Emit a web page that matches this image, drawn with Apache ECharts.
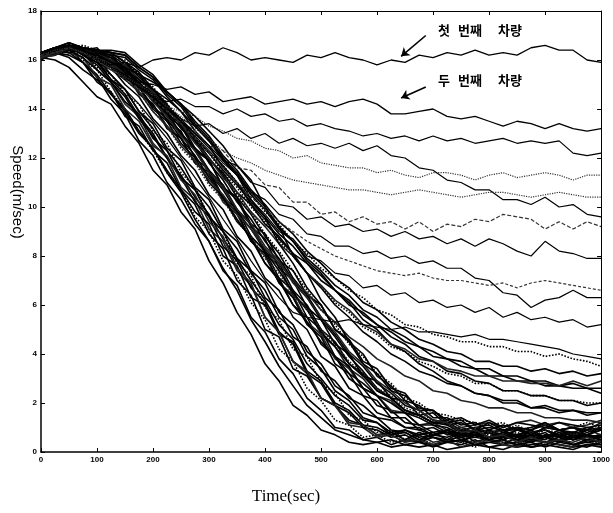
<!DOCTYPE html>
<html>
<head>
<meta charset="utf-8">
<script src="https://cdn.jsdelivr.net/npm/echarts@6/dist/echarts.min.js"></script>
<style>
  html, body { margin: 0; padding: 0; background: #fff; }
  #chart { width: 613px; height: 513px; }
</style>
</head>
<body>
<div id="chart"></div>
<script>
// time axis (sec), one sample every 25 s
var time = [0,25,50,75,100,125,150,175,200,225,250,275,300,325,350,375,400,425,450,475,500,525,550,575,600,625,650,675,700,725,750,775,800,825,850,875,900,925,950,975,1000];

// vehicles that leave the platoon and stay fast
var first  = [16.2,16.4,16.5,16.3,16.0,15.8,15.9,15.7,16.0,16.1,16.0,16.3,16.2,16.5,16.3,16.0,16.1,16.0,15.9,16.2,16.1,16.3,16.1,16.0,15.8,16.0,15.9,16.2,16.1,16.3,16.2,16.4,16.2,16.3,16.2,16.5,16.6,16.4,16.4,16.0,15.9];
var second = [16.2,16.4,16.6,16.3,15.9,15.6,15.2,15.1,15.0,14.8,14.9,14.6,14.7,14.3,14.4,14.5,14.2,14.3,14.4,14.2,14.3,14.1,14.3,14.4,14.2,13.8,13.8,13.9,14.0,13.7,13.6,13.7,13.5,13.3,13.5,13.4,13.2,13.4,13.2,13.1,13.2];
var u3  = [16.2,16.4,16.5,16.4,16.0,15.7,15.3,14.9,14.5,14.3,14.4,14.1,14.1,13.8,14.0,13.7,13.8,13.5,13.6,13.3,13.4,13.2,13.1,12.9,13.0,12.8,12.9,12.7,12.9,12.7,12.8,12.6,12.7,12.8,12.6,12.7,12.6,12.7,12.2,12.1,12.2];
var u4  = [16.1,16.4,16.6,16.3,16.0,15.6,15.3,14.9,14.5,14.1,13.9,13.7,13.3,13.1,12.8,12.7,12.4,12.3,12.0,12.1,11.8,11.7,11.6,11.6,11.4,11.5,11.3,11.2,11.4,11.4,11.3,11.1,11.3,11.4,11.2,11.3,11.4,11.3,11.1,11.3,11.3];
var u5  = [16.2,16.4,16.5,16.3,16.1,15.7,15.4,15.0,14.6,14.1,13.6,13.3,13.4,13.0,13.2,12.8,13.0,12.6,12.8,12.5,12.6,12.4,12.6,12.3,12.5,12.1,12.0,11.6,11.5,11.1,11.0,10.7,10.7,10.3,10.3,10.1,10.4,10.0,10.1,9.7,9.6];
var u6  = [16.3,16.4,16.6,16.3,16.0,15.6,15.3,14.9,14.5,14.0,13.5,13.1,12.5,12.3,11.6,11.5,10.9,10.8,10.2,10.2,9.7,9.8,9.4,9.6,9.3,9.4,9.1,9.4,9.0,9.3,9.2,9.5,9.4,9.7,9.6,9.5,9.1,9.4,9.1,9.4,9.2];
var u7  = [16.2,16.4,16.6,16.4,16.1,15.7,15.4,15.0,14.6,14.1,13.6,13.0,12.5,11.9,11.7,11.0,10.8,10.1,10.0,9.5,9.6,9.2,9.3,9.0,9.1,8.8,9.0,8.7,8.8,8.5,8.7,8.4,8.7,8.5,8.2,8.0,8.6,8.2,8.1,7.9,7.9];
var u8  = [16.2,16.5,16.6,16.3,16.0,15.7,15.3,14.9,14.5,14.0,13.5,13.0,12.4,11.8,11.3,10.6,10.3,9.7,9.5,8.9,8.8,8.4,8.4,8.1,8.2,7.9,8.0,7.7,7.8,7.5,7.5,7.1,7.0,6.5,6.4,5.9,6.2,6.3,6.6,6.3,6.3];
var u9  = [16.2,16.4,16.5,16.2,15.9,15.4,14.8,14.2,13.5,12.8,12.0,11.2,10.4,9.5,8.7,7.8,7.0,6.3,5.7,5.5,5.4,5.3,5.4,5.2,5.1,5.0,5.1,4.9,4.9,4.8,4.7,4.8,4.6,4.6,4.5,4.4,4.3,4.2,4.0,3.9,3.8];
var u10 = [16.3,16.4,16.6,16.4,16.0,15.7,15.3,14.9,14.5,14.0,13.5,12.9,12.3,11.7,11.0,10.3,9.7,9.0,8.7,8.0,7.8,7.3,7.2,6.7,6.8,6.4,6.5,6.1,6.2,5.9,6.0,5.7,5.9,5.5,5.7,5.4,5.5,5.3,5.4,5.1,5.2];
var u11 = [16.2,16.4,16.5,16.3,16.1,15.7,15.3,15.0,14.6,14.1,13.7,13.2,12.8,12.3,12.0,11.8,11.5,11.3,11.1,11.0,10.9,10.8,10.7,10.7,10.6,10.5,10.6,10.7,10.6,10.5,10.4,10.5,10.6,10.6,10.5,10.4,10.5,10.6,10.5,10.4,10.4];
var u12 = [16.2,16.3,16.5,16.3,16.0,15.6,15.2,14.8,14.4,13.9,13.4,12.8,12.2,11.6,11.0,10.4,9.9,9.4,9.0,8.6,8.3,8.0,7.8,7.6,7.4,7.3,7.2,7.3,7.1,7.0,7.0,6.9,6.8,6.9,6.7,6.9,7.0,6.9,6.8,6.7,6.6];

// vehicles that brake (the dense platoon)
var edge  = [16.1,16.0,15.7,15.1,14.5,14.2,13.3,12.6,11.5,10.9,9.8,9.1,7.8,6.9,5.7,4.8,3.6,2.9,1.9,1.5,0.9,0.7,0.4,0.3,0.4,0.2,0.3,0.2,0.3,0.1,0.2,0.3,0.2,0.1,0.3,0.2,0.3,0.2,0.1,0.3,0.2];
var edge2 = [16.2,16.3,16.1,15.6,15.2,14.6,14.0,13.1,12.4,11.4,10.6,9.5,8.6,7.5,6.6,5.4,4.5,3.5,2.7,1.9,1.4,0.9,0.7,0.5,0.4,0.5,0.3,0.4,0.3,0.4,0.5,0.3,0.4,0.3,0.2,0.3,0.4,0.3,0.2,0.3,0.3];
var a1  = [16.2,16.4,16.3,15.9,15.3,14.4,13.8,12.7,12.1,11.0,10.3,9.3,8.6,7.4,6.8,5.5,4.9,3.8,3.2,2.2,1.7,1.0,0.9,0.5,0.6,0.3,0.5,0.4,0.2,0.4,0.3,0.5,0.2,0.3,0.4,0.2,0.3,0.5,0.3,0.2,0.4];
var a2  = [16.1,16.3,16.6,16.0,15.6,14.7,14.0,13.1,12.3,11.4,10.7,9.6,9.0,7.8,7.2,6.1,5.4,4.2,3.7,2.6,2.1,1.3,1.1,0.6,0.7,0.4,0.5,0.6,0.3,0.5,0.4,0.2,0.5,0.4,0.5,0.2,0.4,0.3,0.2,0.5,0.3];
var a3  = [16.2,16.5,16.4,16.3,15.6,15.1,14.2,13.7,12.6,12.0,10.8,10.3,9.1,8.6,7.4,6.8,5.5,4.9,3.7,3.2,2.2,1.9,1.1,1.0,0.6,0.7,0.4,0.7,0.4,0.5,0.6,0.3,0.5,0.4,0.3,0.6,0.4,0.5,0.3,0.5,0.4];
var a4  = [16.3,16.2,16.5,15.9,15.4,14.6,13.9,13.0,12.4,11.5,10.7,9.8,9.3,8.0,7.6,6.3,6.0,4.8,4.5,3.3,2.9,2.0,1.7,1.1,1.0,0.7,0.8,0.5,0.7,0.6,0.8,0.4,0.6,0.5,0.7,0.6,0.8,0.4,0.6,0.7,0.5];
var a5  = [16.2,16.4,16.6,16.2,15.8,15.1,14.5,13.6,12.9,12.0,11.2,10.2,9.6,8.4,7.8,6.7,6.1,4.9,4.4,3.2,2.8,1.9,1.6,1.0,0.9,0.6,0.7,0.4,0.6,0.5,0.4,0.7,0.5,0.3,0.6,0.5,0.4,0.6,0.3,0.5,0.6];
var a6  = [16.0,16.3,16.2,15.9,15.1,14.7,13.7,13.3,12.3,11.8,10.7,10.1,8.9,8.3,7.0,6.4,5.0,4.7,3.4,3.1,2.2,1.9,1.3,1.1,0.7,0.8,0.5,0.8,0.6,0.4,0.7,0.6,0.5,0.7,0.5,0.4,0.7,0.6,0.5,0.7,0.5];
var a7  = [16.2,16.3,16.6,16.3,16.0,15.2,14.6,13.7,13.0,12.0,11.3,10.4,9.7,8.7,7.9,7.0,6.2,5.2,4.6,3.6,3.0,2.3,1.9,1.3,1.2,0.8,0.9,0.6,0.7,0.8,0.5,0.6,0.8,0.6,0.5,0.7,0.6,0.4,0.7,0.6,0.7];
var a8  = [16.1,16.4,16.3,16.1,15.3,15.0,14.0,13.5,12.5,12.1,11.1,10.5,9.4,8.8,7.5,6.9,5.5,4.9,3.7,3.3,2.2,1.9,1.2,1.1,0.7,0.7,0.4,0.5,0.3,0.5,0.2,0.4,0.5,0.3,0.2,0.5,0.4,0.3,0.2,0.5,0.4];
var a9  = [16.2,16.4,16.5,16.3,15.7,15.4,14.6,14.2,13.1,12.6,11.4,10.8,9.6,9.0,7.7,7.2,5.9,5.4,4.2,3.9,2.8,2.4,1.5,1.3,0.8,0.9,0.5,0.8,0.7,0.9,0.5,0.8,0.7,0.6,0.8,0.6,0.9,0.7,0.8,0.6,0.7];
var a10 = [16.3,16.5,16.6,16.3,16.1,15.4,14.8,13.9,13.2,12.3,11.6,10.7,10.0,9.0,8.3,7.3,6.6,5.5,5.0,3.9,3.4,2.5,2.1,1.4,1.2,0.7,0.9,0.7,0.8,0.5,0.8,0.7,0.8,0.5,0.7,0.9,0.6,0.7,0.5,0.7,0.6];
var d1  = [16.2,16.3,16.5,16.4,16.1,15.7,15.0,14.5,13.6,13.0,12.1,11.5,10.5,9.9,8.8,8.2,7.1,6.6,5.5,5.0,3.9,3.5,2.6,2.3,1.6,1.4,1.0,1.0,0.7,0.8,0.6,0.7,0.5,0.6,0.7,0.5,0.6,0.4,0.6,0.5,0.6];
var d2  = [16.1,16.4,16.5,16.3,16.2,15.9,15.3,14.9,14.0,13.5,12.6,12.0,11.0,10.4,9.4,8.8,7.7,7.1,6.0,5.5,4.4,3.9,3.0,2.6,1.9,1.7,1.2,1.1,0.8,0.9,0.7,0.8,0.6,0.8,0.7,0.5,0.7,0.6,0.8,0.6,0.7];
var d3  = [16.3,16.5,16.4,16.5,16.2,15.8,15.4,14.7,14.2,13.3,12.8,11.8,11.3,10.2,9.7,8.6,8.0,6.9,6.4,5.3,4.8,3.8,3.4,2.6,2.3,1.7,1.6,1.1,1.2,0.9,1.0,0.8,0.9,0.7,0.9,0.8,0.6,0.8,0.7,0.9,0.7];
var d4  = [16.2,16.3,16.6,16.5,16.4,15.9,15.6,15.0,14.4,13.8,13.0,12.4,11.5,10.9,9.9,9.3,8.2,7.7,6.6,6.0,5.0,4.5,3.6,3.2,2.5,2.2,1.7,1.5,1.2,1.2,0.9,1.0,1.1,0.8,1.0,0.9,1.1,0.9,0.8,1.0,0.9];
var d5  = [16.1,16.2,16.4,16.1,15.6,15.1,14.3,13.8,12.8,12.3,11.2,10.7,9.6,9.0,7.9,7.4,6.3,5.8,4.7,4.3,3.3,2.9,2.2,1.9,1.4,1.3,1.0,0.9,0.7,0.9,0.6,0.7,0.5,0.7,0.6,0.4,0.6,0.5,0.7,0.4,0.5];
var d6  = [16.2,16.4,16.5,16.6,16.4,16.0,15.7,15.2,14.6,14.0,13.4,12.7,12.0,11.3,10.5,9.8,8.9,8.2,7.4,6.6,5.8,5.2,4.4,3.9,3.2,2.8,2.2,2.0,1.6,1.5,1.3,1.2,1.1,1.2,0.9,1.0,1.1,0.9,1.0,1.2,1.0];
var d7  = [16.3,16.4,16.6,16.2,15.9,15.2,14.8,13.9,13.4,12.4,11.9,10.8,10.3,9.1,8.6,7.4,6.9,5.7,5.2,4.1,3.6,2.7,2.3,1.6,1.4,0.9,0.8,0.5,0.6,0.4,0.5,0.3,0.4,0.5,0.3,0.4,0.2,0.4,0.3,0.4,0.3];
var d8  = [16.2,16.3,16.5,16.4,16.3,16.1,15.5,15.1,14.3,13.9,12.9,12.4,11.4,10.9,9.8,9.3,8.1,7.6,6.4,5.9,4.8,4.3,3.4,3.0,2.3,2.1,1.6,1.5,1.2,1.3,1.0,1.1,1.2,1.0,1.2,1.3,1.1,1.2,1.0,1.1,1.3];
var b1  = [16.2,16.4,16.5,16.3,16.4,15.9,15.7,14.8,14.5,13.5,13.1,12.0,11.5,10.4,9.9,8.8,8.2,7.1,6.6,5.5,5.0,3.9,3.5,2.6,2.3,1.6,1.6,1.1,1.1,0.8,0.9,0.8,0.9,0.6,0.9,0.8,0.9,0.6,0.8,0.7,0.9];
var b2  = [16.1,16.3,16.6,16.5,16.3,16.2,15.6,15.1,14.4,13.8,13.0,12.3,11.4,10.7,9.8,9.1,8.2,7.4,6.5,5.8,4.9,4.3,3.6,3.1,2.5,2.2,1.7,1.5,1.2,1.1,0.8,0.9,0.8,0.9,0.6,0.8,0.9,0.7,0.8,0.7,0.9];
var b3  = [16.2,16.4,16.3,16.4,16.3,15.7,15.5,14.6,14.2,13.2,12.8,11.8,11.4,10.3,9.8,8.6,8.1,6.9,6.3,5.2,4.7,3.6,3.2,2.3,2.1,1.4,1.4,0.9,1.0,0.7,0.8,0.7,0.8,0.5,0.7,0.8,0.6,0.7,0.5,0.7,0.6];
var b4  = [16.3,16.5,16.6,16.4,16.3,16.2,15.8,15.4,14.7,14.1,13.3,12.7,11.8,11.1,10.2,9.5,8.6,7.9,7.0,6.3,5.4,4.7,3.9,3.3,2.6,2.2,1.7,1.5,1.2,1.2,0.9,1.0,0.8,0.9,0.9,0.7,1.0,0.9,0.7,0.9,1.0];
var b5  = [16.2,16.3,16.5,16.3,16.0,15.8,15.2,14.7,13.9,13.3,12.4,11.8,10.9,10.3,9.4,8.8,7.9,7.3,6.4,5.8,5.0,4.4,3.7,3.2,2.6,2.3,1.8,1.6,1.3,1.2,0.9,1.0,0.8,0.9,1.1,0.8,0.9,0.8,0.7,0.9,1.0];
var b6  = [16.1,16.3,16.4,16.5,16.4,15.9,15.8,15.0,14.7,13.8,13.4,12.4,11.9,10.8,10.3,9.2,8.7,7.5,7.0,5.9,5.4,4.4,4.0,3.1,2.9,2.2,2.1,1.5,1.6,1.1,1.2,0.9,1.2,0.9,1.0,0.9,1.2,0.9,1.0,0.9,1.2];
var b7  = [16.3,16.5,16.7,16.5,16.4,16.3,15.9,15.5,14.8,14.2,13.4,12.8,12.0,11.3,10.4,9.7,8.8,8.1,7.1,6.4,5.5,4.8,4.0,3.5,2.8,2.4,1.9,1.7,1.3,1.2,0.8,0.9,0.6,0.8,0.6,0.7,0.6,0.9,0.6,0.7,0.6];
var b8  = [16.2,16.4,16.5,16.4,16.2,16.0,15.4,14.9,14.1,13.6,12.8,12.1,11.2,10.4,9.5,8.7,7.7,7.0,6.0,5.3,4.5,3.9,3.2,2.8,2.3,2.0,1.6,1.4,1.1,1.0,0.7,0.8,0.5,0.7,0.5,0.6,0.5,0.8,0.5,0.6,0.5];
var b9  = [16.2,16.3,16.5,16.4,16.5,15.9,15.7,14.9,14.6,13.7,13.3,12.3,11.9,10.8,10.4,9.3,8.9,7.8,7.4,6.4,6.0,5.0,4.6,3.7,3.4,2.6,2.4,1.7,1.7,1.2,1.3,0.9,1.0,0.9,1.0,0.7,1.0,0.9,1.0,0.7,1.0];
var b10 = [16.3,16.4,16.6,16.3,16.1,15.9,15.4,15.0,14.3,13.7,12.9,12.3,11.4,10.8,9.9,9.3,8.4,7.8,6.9,6.3,5.5,4.9,4.1,3.6,2.9,2.5,2.0,1.7,1.3,1.2,0.8,0.9,0.6,0.7,0.4,0.6,0.4,0.5,0.4,0.6,0.4];
var c1  = [16.2,16.4,16.5,16.4,16.3,16.2,16.1,15.6,15.2,14.5,13.9,13.1,12.5,11.6,11.0,10.1,9.5,8.7,8.1,7.3,6.7,6.0,5.5,4.9,4.5,4.0,3.7,3.3,3.1,2.8,2.7,2.4,2.3,2.1,2.1,1.8,1.9,1.7,1.7,1.6,1.6];
var c2  = [16.1,16.3,16.5,16.4,16.2,16.1,16.0,15.4,14.9,14.2,13.6,12.8,12.2,11.4,10.8,10.0,9.4,8.6,8.0,7.3,6.8,6.1,5.7,5.1,4.8,4.3,4.1,3.7,3.5,3.2,3.1,2.8,2.8,2.5,2.5,2.3,2.3,2.1,2.1,2.0,2.0];
var c3  = [16.2,16.3,16.6,16.4,16.3,16.3,16.2,15.7,15.3,14.6,14.1,13.3,12.7,11.9,11.3,10.5,9.9,9.1,8.6,7.9,7.4,6.8,6.4,5.8,5.5,5.0,4.7,4.3,4.1,3.8,3.7,3.4,3.4,3.1,3.1,2.9,2.9,2.7,2.8,2.6,2.6];
var c4  = [16.3,16.5,16.6,16.5,16.4,16.3,16.2,15.7,15.3,14.7,14.2,13.5,12.9,12.1,11.5,10.7,10.1,9.4,8.9,8.2,7.7,7.1,6.7,6.1,5.8,5.3,5.0,4.6,4.4,4.1,4.0,3.7,3.7,3.5,3.5,3.3,3.4,3.2,3.3,3.1,3.2];
var c5  = [16.1,16.2,16.5,16.3,16.0,15.8,15.2,14.7,13.9,13.3,12.5,11.9,11.1,10.5,9.7,9.1,8.3,7.7,7.0,6.5,5.8,5.3,4.7,4.3,3.8,3.5,3.1,2.9,2.5,2.4,2.1,2.0,1.8,1.8,1.6,1.6,1.4,1.4,1.3,1.3,1.2];
var c6  = [16.2,16.4,16.5,16.4,16.4,16.3,15.9,15.3,14.8,14.1,13.5,12.8,12.2,11.5,10.9,10.2,9.6,8.9,8.4,7.7,7.2,6.6,6.2,5.6,5.2,4.7,4.4,3.9,3.7,3.3,3.2,2.9,2.8,2.5,2.5,2.3,2.3,2.1,2.1,1.9,2.0];
var c7  = [16.2,16.3,16.5,16.4,16.1,16.0,15.5,15.1,14.4,13.9,13.2,12.7,11.9,11.4,10.6,10.1,9.3,8.8,8.1,7.7,7.0,6.6,6.0,5.7,5.2,4.9,4.5,4.3,3.9,3.8,3.5,3.4,3.1,3.1,2.9,2.9,2.7,2.7,2.6,2.6,2.4];
var c8  = [16.3,16.5,16.7,16.5,16.4,16.4,16.3,15.8,15.4,14.7,14.2,13.4,12.8,12.0,11.4,10.6,10.0,9.2,8.6,7.8,7.3,6.6,6.1,5.4,5.0,4.4,4.1,3.6,3.3,2.9,2.7,2.4,2.3,2.0,2.0,1.8,1.8,1.6,1.7,1.5,1.6];
var c9  = [16.2,16.3,16.6,16.4,16.2,16.1,15.6,15.2,14.6,14.1,13.4,12.9,12.2,11.7,11.0,10.5,9.8,9.3,8.6,8.1,7.5,7.1,6.6,6.3,5.8,5.6,5.2,5.1,4.8,4.7,4.5,4.5,4.3,4.3,4.1,4.1,3.9,4.0,3.8,3.7,3.5];
var c10 = [16.1,16.3,16.5,16.4,16.3,16.0,15.8,15.2,14.7,14.0,13.4,12.6,12.0,11.2,10.6,9.8,9.2,8.5,8.0,7.3,6.8,6.2,5.8,5.2,4.9,4.4,4.2,3.8,3.7,3.4,3.3,3.1,3.1,2.9,2.9,2.8,2.8,2.7,2.9,2.7,2.9];
var e1  = [16.2,16.4,16.6,16.5,16.3,16.1,15.7,15.4,15.1,14.7,14.2,13.7,13.1,12.5,11.7,11.1,10.0,9.2,8.0,7.3,6.2,5.5,4.5,4.0,3.1,2.7,2.1,1.9,1.4,1.4,1.1,1.2,0.9,1.1,0.9,1.0,1.2,0.9,1.0,0.8,1.0];
var e2  = [16.3,16.5,16.6,16.4,16.2,15.9,15.6,15.2,14.8,14.4,13.9,13.3,12.7,12.0,11.3,10.3,9.6,8.5,7.7,6.7,6.0,5.0,4.5,3.6,3.2,2.5,2.3,1.8,1.7,1.3,1.4,1.1,1.3,1.0,1.2,1.1,1.0,1.2,1.1,1.0,1.1];

var upper  = [first, second, u3, u4, u5, u6, u7, u8, u9, u10, u11, u12];
var bundle = [edge, edge2, a1, a2, a3, a4, a5, a6, a7, a8, a9, a10,
              d1, d2, d3, d4, d5, d6, d7, d8,
              b1, b2, b3, b4, b5, b6, b7, b8, b9, b10,
              c1, c2, c3, c4, c5, c6, c7, c8, c9, c10, e1, e2];

// annotation labels and arrow ends (data units)
var labelFirst  = ['첫', '번째', '차량'];
var labelSecond = ['두', '번째', '차량'];
var arrowFirst  = [[687, 17.0], [643, 16.15]];
var arrowSecond = [[687, 14.9], [643, 14.45]];

function pairs(vals) {
  return vals.map(function (v, i) { return [time[i], v]; });
}

var myChart = echarts.init(document.getElementById('chart'));

var dottedUpper = { 3: 'dotted', 10: 'dotted', 11: [3, 2], 5: [4, 2] };
var series = [];

bundle.forEach(function (vals, i) {
  series.push({
    type: 'line',
    data: pairs(vals),
    showSymbol: false,
    silent: true,
    lineStyle: {
      color: i % 5 === 4 ? '#222' : '#000',
      width: 1.6,
      type: (i % 7 === 3) ? 'dotted' : 'solid'
    }
  });
});

upper.forEach(function (vals, i) {
  var s = {
    type: 'line',
    data: pairs(vals),
    showSymbol: false,
    silent: true,
    lineStyle: {
      color: dottedUpper[i] ? '#333' : '#000',
      width: i < 2 ? 1.3 : 1.2,
      type: dottedUpper[i] || 'solid'
    }
  };
  if (i === 0) {
    s.markLine = {
      silent: true,
      symbol: ['none', 'arrow'],
      symbolSize: 8,
      label: { show: false },
      lineStyle: { color: '#000', width: 1.6, type: 'solid' },
      data: [
        [{ coord: arrowFirst[0] }, { coord: arrowFirst[1] }],
        [{ coord: arrowSecond[0] }, { coord: arrowSecond[1] }]
      ]
    };
  }
  series.push(s);
});

var tickFont = { fontSize: 8, fontWeight: 'bold', color: '#000', fontFamily: 'Liberation Sans' };

function word(text, x, y) {
  return {
    type: 'text', x: x, y: y,
    style: {
      text: text, fill: '#000',
      fontSize: 13, fontWeight: 'bold',
      fontFamily: '"Noto Sans CJK KR"',
      textVerticalAlign: 'middle'
    }
  };
}

option = {
  animation: false,
  backgroundColor: '#fff',
  grid: { left: 41, right: 6, top: 11, bottom: 61 },
  xAxis: [{
    type: 'value', min: 0, max: 1000, interval: 100, position: 'bottom',
    axisLine: { onZero: false, lineStyle: { color: '#000', width: 1.5 } },
    axisTick: { inside: true, length: 4, lineStyle: { color: '#000' } },
    axisLabel: Object.assign({ margin: 4, formatter: function (v) { return String(v); } }, tickFont),
    splitLine: { show: false }
  }, {
    type: 'value', min: 0, max: 1000, interval: 100, position: 'top',
    axisLine: { onZero: false, lineStyle: { color: '#000', width: 1 } },
    axisTick: { inside: true, length: 4, lineStyle: { color: '#000' } },
    axisLabel: { show: false },
    splitLine: { show: false }
  }],
  yAxis: [{
    type: 'value', min: 0, max: 18, interval: 2, position: 'left',
    axisLine: { show: true, onZero: false, lineStyle: { color: '#000', width: 1.5 } },
    axisTick: { show: true, inside: true, length: 4, lineStyle: { color: '#000' } },
    axisLabel: Object.assign({ margin: 4 }, tickFont),
    splitLine: { show: false }
  }, {
    type: 'value', min: 0, max: 18, interval: 2, position: 'right',
    axisLine: { show: true, onZero: false, lineStyle: { color: '#000', width: 1 } },
    axisTick: { show: true, inside: true, length: 4, lineStyle: { color: '#000' } },
    axisLabel: { show: false },
    splitLine: { show: false }
  }],
  graphic: [
    {
      type: 'text', x: 17, y: 192, rotation: -Math.PI / 2,
      style: {
        text: 'Speed(m/sec)', fill: '#000', fontSize: 15,
        fontFamily: 'Liberation Sans',
        textAlign: 'center', textVerticalAlign: 'middle'
      }
    },
    {
      type: 'text', x: 286, y: 497,
      style: {
        text: 'Time(sec)', fill: '#000', fontSize: 17,
        fontFamily: 'Liberation Serif',
        textAlign: 'center', textVerticalAlign: 'middle'
      }
    },
    word(labelFirst[0], 438, 30), word(labelFirst[1], 458, 30), word(labelFirst[2], 498, 30),
    word(labelSecond[0], 438, 80), word(labelSecond[1], 458, 80), word(labelSecond[2], 498, 80)
  ],
  series: series
};
myChart.setOption(option);
</script>
</body>
</html>
